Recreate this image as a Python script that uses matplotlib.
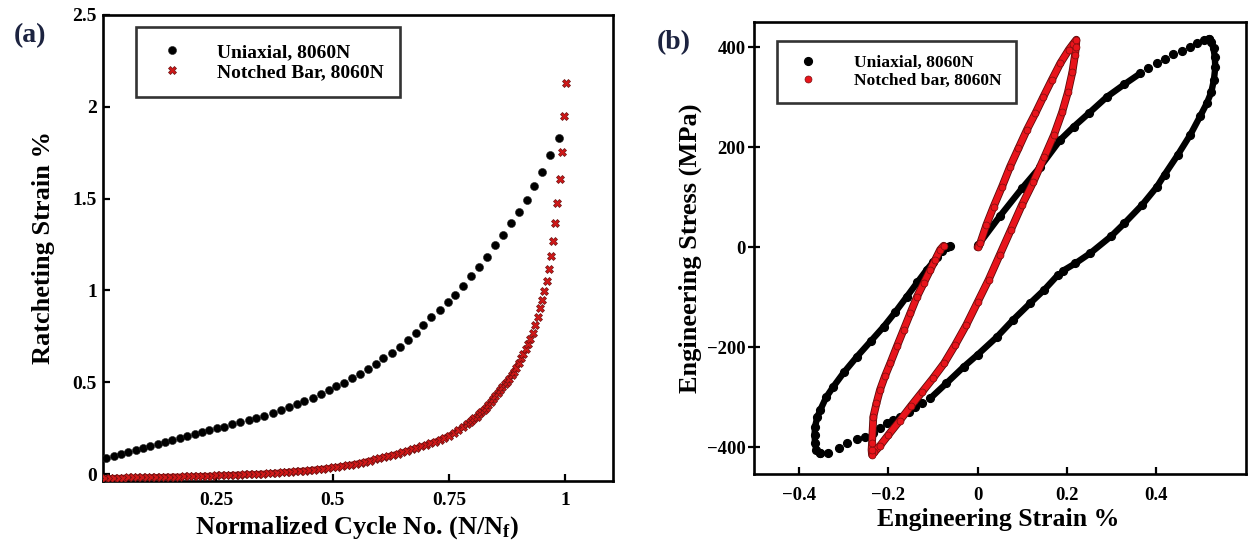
import matplotlib
matplotlib.use("Agg")
import matplotlib.pyplot as plt
import matplotlib.patheffects as pe

plt.rcParams['font.family'] = 'Liberation Serif'
plt.rcParams['font.weight'] = 'bold'
plt.rcParams['mathtext.fontset'] = 'custom'
plt.rcParams['mathtext.rm'] = 'Liberation Serif:bold'
plt.rcParams['mathtext.it'] = 'Liberation Serif:bold'
plt.rcParams['mathtext.bf'] = 'Liberation Serif:bold'

# ---- (a) ratcheting strain vs normalized cycle ----
cyc_uni = [0.013, 0.029, 0.045, 0.060, 0.076, 0.092, 0.108, 0.124, 0.140, 0.155,
           0.171, 0.187, 0.203, 0.219, 0.234, 0.251, 0.267, 0.283, 0.301, 0.319,
           0.335, 0.353, 0.371, 0.389, 0.406, 0.423, 0.439, 0.457, 0.474, 0.492,
           0.508, 0.525, 0.542, 0.559, 0.576, 0.593, 0.609, 0.628, 0.645, 0.662,
           0.679, 0.695, 0.712, 0.730, 0.747, 0.763, 0.780, 0.797, 0.814, 0.832,
           0.849, 0.866, 0.883, 0.900, 0.918, 0.934, 0.951, 0.968, 0.986]
strain_uni = [0.086, 0.098, 0.109, 0.121, 0.131, 0.143, 0.153, 0.162, 0.174, 0.185,
              0.194, 0.207, 0.216, 0.229, 0.240, 0.249, 0.258, 0.272, 0.282, 0.294,
              0.307, 0.318, 0.334, 0.347, 0.363, 0.381, 0.398, 0.416, 0.434, 0.456,
              0.477, 0.497, 0.521, 0.546, 0.573, 0.600, 0.630, 0.660, 0.693, 0.730,
              0.770, 0.812, 0.853, 0.895, 0.935, 0.977, 1.024, 1.078, 1.129, 1.184,
              1.246, 1.303, 1.365, 1.425, 1.494, 1.570, 1.645, 1.739, 1.828]

cyc_notch = [0.01, 0.02, 0.03, 0.04, 0.05, 0.06, 0.07, 0.08, 0.09, 0.10,
             0.11, 0.12, 0.13, 0.14, 0.15, 0.16, 0.17, 0.18, 0.19, 0.20,
             0.21, 0.22, 0.23, 0.24, 0.25, 0.26, 0.27, 0.28, 0.29, 0.30,
             0.31, 0.32, 0.33, 0.34, 0.35, 0.36, 0.37, 0.38, 0.39, 0.40,
             0.41, 0.42, 0.43, 0.44, 0.45, 0.46, 0.47, 0.48, 0.49, 0.50,
             0.51, 0.52, 0.53, 0.54, 0.55, 0.56, 0.57, 0.58, 0.59, 0.60,
             0.61, 0.62, 0.63, 0.64, 0.65, 0.66, 0.67, 0.68, 0.69, 0.70,
             0.71, 0.72, 0.73, 0.74, 0.75, 0.76, 0.77, 0.78, 0.79, 0.795,
             0.800, 0.805, 0.810, 0.815, 0.820, 0.825, 0.830, 0.835, 0.840, 0.845,
             0.850, 0.855, 0.860, 0.865, 0.870, 0.875, 0.880, 0.885, 0.890, 0.895,
             0.900, 0.905, 0.910, 0.915, 0.920, 0.925, 0.930, 0.935, 0.942, 0.946,
             0.951, 0.955, 0.961, 0.966, 0.970, 0.974, 0.978, 0.983, 0.989, 0.994,
             0.998, 1.002]
strain_notch = [-0.022, -0.022, -0.021, -0.021, -0.020, -0.019, -0.019, -0.018, -0.018, -0.017,
                -0.017, -0.016, -0.016, -0.015, -0.015, -0.014, -0.014, -0.013, -0.013, -0.012,
                -0.011, -0.010, -0.010, -0.009, -0.008, -0.007, -0.006, -0.005, -0.004, -0.003,
                -0.002, -0.001, 0.000, 0.001, 0.002, 0.004, 0.005, 0.007, 0.009, 0.011,
                0.013, 0.015, 0.017, 0.019, 0.021, 0.024, 0.027, 0.029, 0.032, 0.036,
                0.039, 0.043, 0.047, 0.051, 0.056, 0.061, 0.067, 0.073, 0.079, 0.085,
                0.091, 0.098, 0.104, 0.111, 0.118, 0.126, 0.134, 0.142, 0.150, 0.158,
                0.167, 0.176, 0.186, 0.197, 0.209, 0.222, 0.238, 0.255, 0.273, 0.283,
                0.293, 0.303, 0.313, 0.325, 0.337, 0.350, 0.362, 0.377, 0.393, 0.410,
                0.427, 0.442, 0.457, 0.472, 0.488, 0.503, 0.520, 0.538, 0.556, 0.580,
                0.605, 0.630, 0.655, 0.680, 0.707, 0.734, 0.770, 0.812, 0.855, 0.904,
                0.948, 0.997, 1.051, 1.117, 1.187, 1.269, 1.367, 1.476, 1.607, 1.754,
                1.950, 2.130]

# ---- (b) hysteresis loops, strain % / stress MPa ----
uni_load_e = [0.002, 0.05, 0.10, 0.141, 0.186, 0.216, 0.25, 0.291, 0.33, 0.366]
uni_load_s = [5, 62, 118, 161, 215, 241, 268, 301, 326, 348]
uni_top_e = [0.384, 0.403, 0.422, 0.440, 0.459, 0.478, 0.493, 0.508, 0.519]
uni_top_s = [358, 368, 377, 386, 393, 401, 408, 415, 416]
uni_unload_e = [0.519, 0.525, 0.530, 0.533, 0.534, 0.531, 0.525, 0.515, 0.500, 0.478,
                0.450, 0.420, 0.403, 0.370, 0.330, 0.300, 0.253, 0.220, 0.192]
uni_unload_s = [416, 410, 398, 380, 360, 335, 310, 288, 262, 225,
                185, 145, 121, 85, 48, 22, -12, -32, -47]
uni_low_e = [0.180, 0.150, 0.118, 0.080, 0.044, 0.000, -0.031, -0.070, -0.106]
uni_low_s = [-56, -85, -112, -145, -179, -215, -239, -272, -302]
uni_bot_e = [-0.125, -0.140, -0.155, -0.174, -0.189, -0.204, -0.219, -0.234, -0.252,
             -0.271, -0.293, -0.312, -0.335, -0.353]
uni_bot_s = [-311, -319, -329, -339, -345, -352, -362, -371, -379,
             -384, -392, -402, -411, -412]
uni_reload_e = [-0.353, -0.362, -0.365, -0.366, -0.365, -0.360, -0.353, -0.340, -0.324,
                -0.300, -0.271, -0.240, -0.211, -0.185, -0.159, -0.135, -0.114, -0.100,
                -0.091, -0.080, -0.069, -0.061]
uni_reload_s = [-412, -405, -392, -375, -359, -340, -325, -300, -279,
                -250, -219, -188, -159, -130, -99, -70, -45, -30,
                -19, -8, 1, 3]

notch_e = [0.0, 0.006, 0.02, 0.036, 0.055, 0.073, 0.092, 0.111, 0.13, 0.148,
           0.167, 0.186, 0.205, 0.215, 0.222, 0.221, 0.219, 0.213, 0.203, 0.190,
           0.172, 0.150, 0.125, 0.100, 0.075, 0.050, 0.025, 0.000, -0.025, -0.050,
           -0.075, -0.100, -0.125, -0.150, -0.175, -0.200, -0.220, -0.232, -0.237, -0.238,
           -0.237, -0.234, -0.227, -0.219, -0.208, -0.196, -0.181, -0.166, -0.151, -0.136,
           -0.121, -0.106, -0.095, -0.084, -0.076]
notch_s = [0, 8, 45, 81, 121, 161, 198, 235, 268, 301,
           335, 368, 395, 407, 415, 400, 385, 350, 310, 270,
           225, 180, 130, 85, 35, -15, -65, -110, -155, -195,
           -232, -262, -290, -318, -347, -375, -398, -410, -415, -405,
           -392, -339, -312, -285, -258, -232, -198, -165, -132, -99,
           -72, -45, -25, -5, 3]

fig = plt.figure(figsize=(12.49, 5.47), dpi=100)

def style_axes(ax):
    for sp in ax.spines.values():
        sp.set_linewidth(1.9)
    ax.tick_params(top=False, right=False, width=1.6, length=5)

# panel (a)
ax1 = fig.add_axes([0.0821, 0.1207, 0.4087, 0.8519])
# the early cycles are so close together that the crosses merge into a band
n_band = sum(1 for c in cyc_notch if c <= 0.90)
ax1.plot(cyc_notch[:n_band], strain_notch[:n_band], '-', color='#a01414', lw=4.2,
         solid_capstyle='round', zorder=2)
ax1.plot(cyc_uni, strain_uni, 'o', color='black', ms=5.8, mec='#222222', mew=0.4,
         label='Uniaxial, 8060N', zorder=3)
ax1.plot(cyc_notch, strain_notch, 'X', color='#d01818', ms=6.4, mec='#6a1010', mew=0.5,
         label='Notched Bar, 8060N', zorder=3)
ax1.set_xlim(0.005, 1.103)
ax1.set_ylim(-0.038, 2.5)
ax1.set_xticks([0.25, 0.5, 0.75, 1])
ax1.set_xticklabels(['0.25', '0.5', '0.75', '1'])
ax1.set_yticks([0, 0.5, 1, 1.5, 2, 2.5])
ax1.set_yticklabels(['0', '0.5', '1', '1.5', '2', '2.5'])
style_axes(ax1)
ax1.tick_params(axis='both', direction='in', labelsize=14)
ax1.tick_params(axis='x', pad=8)
ax1.tick_params(axis='y', pad=4)
ax1.set_xlabel('Normalized Cycle No. (N/N$_\\mathrm{f}$)', fontsize=19, fontweight='bold')
ax1.set_ylabel('Ratcheting Strain %', fontsize=19, fontweight='bold')
ax1.xaxis.set_label_coords(0.4985, -0.072)
ax1.yaxis.set_label_coords(-0.093, 0.5)
leg1 = ax1.legend(loc='upper left', bbox_to_anchor=(0.066, 0.974), borderaxespad=0,
                  fontsize=14, frameon=True, fancybox=False, borderpad=0.85,
                  labelspacing=0.1, handletextpad=1.3, handlelength=2.0)
leg1.get_frame().set_edgecolor('black')
leg1.get_frame().set_linewidth(1.9)

# panel (b)
ax2 = fig.add_axes([0.6037, 0.1329, 0.3939, 0.8274])
band = dict(color='black', lw=4.6, solid_capstyle='round', solid_joinstyle='round')
for e, s in [(uni_load_e, uni_load_s), (uni_unload_e, uni_unload_s),
             (uni_low_e, uni_low_s), (uni_reload_e, uni_reload_s)]:
    ax2.plot(e, s, '-', **band)
uni_all_e = uni_load_e + uni_top_e + uni_unload_e + uni_low_e + uni_bot_e + uni_reload_e
uni_all_s = uni_load_s + uni_top_s + uni_unload_s + uni_low_s + uni_bot_s + uni_reload_s
ax2.plot(uni_all_e, uni_all_s, 'o', color='black', ms=5.6, label='Uniaxial, 8060N')

ax2.plot(notch_e, notch_s, '-', color='#e8141b', lw=4.4, solid_capstyle='round',
         solid_joinstyle='round',
         path_effects=[pe.Stroke(linewidth=5.6, foreground='#5a0a0a'), pe.Normal()])
ax2.plot(notch_e, notch_s, 'o', color='#e8141b', ms=5.0, mec='#7a0e0e', mew=0.5,
         label='Notched bar, 8060N')

ax2.set_xlim(-0.502, 0.603)
ax2.set_ylim(-454, 451)
ax2.set_xticks([-0.4, -0.2, 0, 0.2, 0.4])
ax2.set_xticklabels(['\u22120.4', '\u22120.2', '0', '0.2', '0.4'])
ax2.set_yticks([-400, -200, 0, 200, 400])
ax2.set_yticklabels(['\u2212400', '\u2212200', '0', '200', '400'])
style_axes(ax2)
ax2.tick_params(axis='both', labelsize=13.5)
ax2.tick_params(axis='x', direction='in', pad=9)
ax2.tick_params(axis='y', direction='inout', length=8, pad=2)
ax2.set_xlabel('Engineering Strain %', fontsize=18.5, fontweight='bold')
ax2.set_ylabel('Engineering Stress (MPa)', fontsize=19, fontweight='bold')
ax2.xaxis.set_label_coords(0.496, -0.075)
ax2.yaxis.set_label_coords(-0.106, 0.5)
leg2 = ax2.legend(loc='upper left', bbox_to_anchor=(0.0467, 0.958), borderaxespad=0,
                  fontsize=12.6, frameon=True, fancybox=False, borderpad=0.8,
                  labelspacing=0.1, handletextpad=1.6, handlelength=2.0)
leg2.get_frame().set_edgecolor('black')
leg2.get_frame().set_linewidth(1.9)

fig.text(0.024, 0.934, '(a)', fontsize=20, fontweight='bold', color='#1c2340',
         ha='center', va='center')
fig.text(0.5396, 0.923, '(b)', fontsize=20, fontweight='bold', color='#1c2340',
         ha='center', va='center')

fig.savefig('out.png', dpi=100)
